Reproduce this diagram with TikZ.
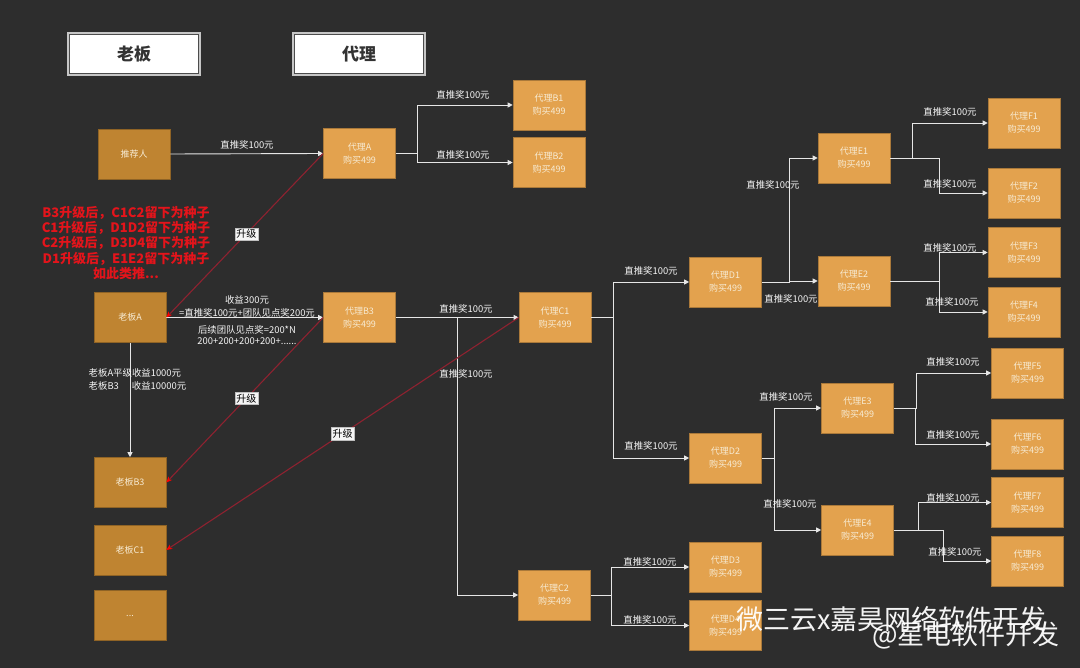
\documentclass[tikz,border=0pt]{standalone}
\usepackage{fontspec}
\setmainfont{Noto Sans CJK SC}
\usetikzlibrary{arrows.meta}
\definecolor{bg}{HTML}{2D2D2D}
\definecolor{agentc}{HTML}{E3A24E}
\definecolor{bossc}{HTML}{BF8431}
\definecolor{boxtxt}{HTML}{F7EBD3}
\definecolor{upred}{HTML}{8E2230}
\definecolor{redtxt}{HTML}{E4141B}
\definecolor{linec}{HTML}{E6E6E6}
\tikzset{
  agentbox/.style={minimum width=72pt, minimum height=50pt, inner sep=1pt, align=center,
    text=boxtxt, font=\fontsize{9}{13}\selectfont, fill=agentc, draw=agentc!75!black, line width=0.6pt},
  bossbox/.style={agentbox, fill=bossc, draw=bossc!75!black},
  hdrbox/.style={minimum width=132pt, minimum height=42pt, fill=white, draw=gray!45, line width=2.5pt,
    font=\fontsize{17}{20}\selectfont\bfseries, text=black!80},
  lbl/.style={text=white!92!gray, font=\fontsize{9.4}{12}\selectfont, inner sep=0.5pt},
  arr/.style={draw=linec, line width=0.9pt, -{Triangle[length=5pt,width=5pt]}},
  upline/.style={draw=upred, line width=1.1pt, -{Stealth[length=6pt,width=5pt,color=red]}},
  uplbl/.style={fill=gray!8, draw=gray!50, line width=0.4pt, text=black, font=\fontsize{10}{11}\selectfont, inner sep=1.5pt},
}
\begin{document}
\begin{tikzpicture}[x=1pt,y=-1pt]
\fill[bg] (0,0) rectangle (1080,668);
\useasboundingbox (0,0) rectangle (1080,668);

% headers
\node[hdrbox] (h1) at (134,54) {老板};
\node[hdrbox] (h2) at (359,54) {代理};
\draw[black!70, line width=0.6pt] ([shift={(2.5,2.5)}]h1.north west) rectangle ([shift={(-2.5,-2.5)}]h1.south east);
\draw[black!70, line width=0.6pt] ([shift={(2.5,2.5)}]h2.north west) rectangle ([shift={(-2.5,-2.5)}]h2.south east);

% boss column
\node[bossbox] (tj) at (134,154) {推荐人};
\node[bossbox] (bossA) at (130,317.5) {老板A};
\node[bossbox] (bossB3) at (130,482.5) {老板B3};
\node[bossbox] (bossC1) at (130,550) {老板C1};
\node[bossbox] (bossD) at (130,615.5) {...};

% agents
\node[agentbox] (A) at (359.5,153.5) {代理A\\购买499};
\node[agentbox] (B1) at (549,105) {代理B1\\购买499};
\node[agentbox] (B2) at (549,162.5) {代理B2\\购买499};
\node[agentbox] (B3) at (359.5,317.5) {代理B3\\购买499};
\node[agentbox] (C1) at (555,317.5) {代理C1\\购买499};
\node[agentbox] (C2) at (554.5,595) {代理C2\\购买499};
\node[agentbox] (D1) at (725.5,282) {代理D1\\购买499};
\node[agentbox] (D2) at (725.5,458) {代理D2\\购买499};
\node[agentbox] (D3) at (725.5,567) {代理D3\\购买499};
\node[agentbox] (D4) at (725.5,625.5) {代理D4\\购买499};
\node[agentbox] (E1) at (854,158) {代理E1\\购买499};
\node[agentbox] (E2) at (854,281) {代理E2\\购买499};
\node[agentbox] (E3) at (857.5,408) {代理E3\\购买499};
\node[agentbox] (E4) at (857.5,530) {代理E4\\购买499};
\node[agentbox] (F1) at (1024,123) {代理F1\\购买499};
\node[agentbox] (F2) at (1024,193) {代理F2\\购买499};
\node[agentbox] (F3) at (1024,252.5) {代理F3\\购买499};
\node[agentbox] (F4) at (1024,312) {代理F4\\购买499};
\node[agentbox] (F5) at (1027.5,373) {代理F5\\购买499};
\node[agentbox] (F6) at (1027.5,444) {代理F6\\购买499};
\node[agentbox] (F7) at (1027.5,502.5) {代理F7\\购买499};
\node[agentbox] (F8) at (1027.5,561) {代理F8\\购买499};

% white connectors
\draw[arr] (tj.east) -- (A.west);
\draw[arr] (A.east) -- ++(22,0) |- (B1.west);
\draw[arr] (A.east) -- ++(22,0) |- (B2.west);
\draw[arr] (bossA.east) -- (B3.west);
\draw[arr] (bossA.south) -- (bossB3.north);
\draw[arr] (B3.east) -- (C1.west);
\draw[arr] (B3.east) -- ++(61.5,0) |- (C2.west);
\draw[arr] (C1.east) -- ++(22,0) |- (D1.west);
\draw[arr] (C1.east) -- ++(22,0) |- (D2.west);
\draw[arr] (C2.east) -- ++(20.5,0) |- (D3.west);
\draw[arr] (C2.east) -- ++(20.5,0) |- (D4.west);
\draw[arr] (D1.east) -- ++(27.5,0) |- (E1.west);
\draw[arr] (D1.east) -- ++(27.5,0) |- (E2.west);
\draw[arr] (D2.east) -- ++(12.5,0) |- (E3.west);
\draw[arr] (D2.east) -- ++(12.5,0) |- (E4.west);
\draw[arr] (E1.east) -- ++(22,0) |- (F1.west);
\draw[arr] (E1.east) -- ++(49,0) |- (F2.west);
\draw[arr] (E2.east) -- ++(49,0) |- (F3.west);
\draw[arr] (E2.east) -- ++(49,0) |- (F4.west);
\draw[arr] (E3.east) -- ++(22.5,0) |- (F5.west);
\draw[arr] (E3.east) -- ++(21.5,0) |- (F6.west);
\draw[arr] (E4.east) -- ++(24.5,0) |- (F7.west);
\draw[arr] (E4.east) -- ++(49.5,0) |- (F8.west);

% connector labels
\node[lbl] (l1) at (247,145) {直推奖100元};
\node[lbl] (l2) at (463,95) {直推奖100元};
\node[lbl] (l3) at (463,155) {直推奖100元};
\node[lbl] (l4) at (466,309) {直推奖100元};
\node[lbl] (l5) at (466,374) {直推奖100元};
\node[lbl] (l6) at (651,271) {直推奖100元};
\node[lbl] (l7) at (651,446) {直推奖100元};
\node[lbl] (l8) at (650,562) {直推奖100元};
\node[lbl] (l9) at (650,620) {直推奖100元};
\node[lbl] (l10) at (773,185) {直推奖100元};
\node[lbl] (l11) at (791,299) {直推奖100元};
\node[lbl] (l12) at (786,397) {直推奖100元};
\node[lbl] (l13) at (790,504) {直推奖100元};
\node[lbl] (l14) at (950,112) {直推奖100元};
\node[lbl] (l15) at (950,184) {直推奖100元};
\node[lbl] (l16) at (950,248) {直推奖100元};
\node[lbl] (l17) at (952,302) {直推奖100元};
\node[lbl] (l18) at (953,362) {直推奖100元};
\node[lbl] (l19) at (953,435) {直推奖100元};
\node[lbl] (l20) at (953,498) {直推奖100元};
\node[lbl] (l21) at (955,552) {直推奖100元};

\node[lbl] (s1) at (247,300) {收益300元};
\node[lbl] (s2) at (247,312.5) {=直推奖100元+团队见点奖200元};
\node[lbl] (s3) at (247,330) {后续团队见点奖=200*N};
\node[lbl] (s4) at (247,341.5) {200+200+200+200+......};
\node[lbl, anchor=west] (s5) at (88,373) {老板A平级收益1000元};
\node[lbl, anchor=west] (s6) at (88,385.5) {老板B3\hspace{13pt}收益10000元};

% upgrade lines
\draw[upline] (A.west) -- node[uplbl, pos=0.49] (u1) {升级} (bossA.east);
\draw[upline] (B3.west) -- node[uplbl, pos=0.49] (u2) {升级} (bossB3.east);
\draw[upline] (C1.west) -- node[uplbl, pos=0.5] (u3) {升级} (bossC1.east);

% red note
\node[text=redtxt, font=\fontsize{13}{15.2}\selectfont\bfseries, align=center, inner sep=0pt] (note) at (126,243)
  {B3升级后，C1C2留下为种子\\C1升级后，D1D2留下为种子\\C2升级后，D3D4留下为种子\\D1升级后，E1E2留下为种子\\如此类推...};

% watermark
\node[text=white, opacity=0.95, font=\fontsize{27}{30}\selectfont, inner sep=0pt, anchor=west] (wm1) at (736,619) {微三云x嘉昊网络软件开发};
\node[text=white, opacity=0.95, font=\fontsize{27}{30}\selectfont, inner sep=0pt, anchor=east] (wm2) at (1060,635) {@星电软件开发};
\end{tikzpicture}
\end{document}
